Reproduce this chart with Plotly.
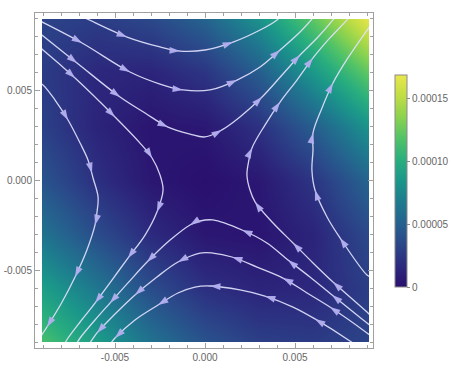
import math
import plotly.graph_objects as go

# ---------------- data (coordinates in units of 1e-3, density in units of 1e-6) -------------
grid_x = [-9, -6, -3, 0, 3, 6, 9]
grid_y = [-9, -6, -3, 0, 3, 6, 9]
density = [
    [115.0, 90.0, 62.0, 42.0, 30.0, 27.0, 32.0],   # y = -9
    [90.0, 65.0, 38.0, 20.0, 13.0, 15.0, 28.0],    # y = -6
    [62.0, 38.0, 17.0, 5.0, 3.5, 13.0, 35.0],      # y = -3
    [42.0, 20.0, 5.0, 0.0, 5.5, 23.0, 52.0],       # y = 0
    [30.0, 13.0, 3.5, 5.5, 21.0, 48.0, 82.0],      # y = 3
    [27.0, 15.0, 13.0, 23.0, 48.0, 85.0, 122.0],   # y = 6
    [32.0, 28.0, 35.0, 52.0, 82.0, 122.0, 166.0],  # y = 9
]

# streamlines, points in flow order
t1_x = [-6.94, -6.67, -4.33, -2.5, -1.39, 0.0, 1.56, 3.06, 4.0, 4.22]
t1_y = [9.14, 9.03, 7.97, 7.42, 7.19, 7.25, 7.69, 8.36, 8.92, 9.14]
t2_x = [-9.28, -9.06, -6.83, -4.17, -2.5, -1.22, 0.28, 1.78, 3.06, 4.17, 5.28, 5.94, 6.11]
t2_y = [8.92, 8.81, 7.64, 6.03, 5.36, 5.03, 5.03, 5.58, 6.31, 7.25, 8.25, 8.97, 9.19]
t3_x = [-9.28, -9.06, -7.11, -4.72, -3.33, -2.06, -0.83, 0.0, 0.94, 1.94, 3.17, 4.28, 5.28, 6.28, 7.11, 7.28]
t3_y = [8.25, 8.08, 6.53, 4.64, 3.75, 2.97, 2.58, 2.42, 2.81, 3.53, 4.64, 5.86, 6.97, 7.97, 8.92, 9.14]
l1_x = [-9.22, -9.0, -8.33, -7.61, -6.94, -6.5, -6.22, -5.94, -6.0, -6.11, -6.56, -7.22, -7.94, -8.78, -9.0, -9.17]
l1_y = [5.42, 5.31, 4.47, 3.36, 2.08, 1.14, 0.14, -0.92, -1.75, -2.47, -3.86, -5.36, -6.75, -8.14, -8.47, -8.75]
l2_x = [-9.22, -9.0, -7.22, -5.0, -3.61, -2.94, -2.5, -2.33, -2.67, -3.33, -4.28, -5.17, -6.11, -6.94, -7.61, -7.78]
l2_y = [7.42, 7.25, 5.69, 3.53, 2.08, 1.25, 0.31, -0.53, -1.75, -3.03, -4.31, -5.53, -6.81, -7.86, -8.75, -9.03]
ra_x = [9.22, 9.0, 7.11, 6.0, 4.89, 3.78, 2.78, 2.5, 2.33, 2.44, 2.61, 3.33, 4.17, 5.11, 6.0, 6.94, 7.89, 8.06]
ra_y = [-7.53, -7.31, -5.64, -4.58, -3.47, -2.36, -1.19, -0.53, 0.31, 1.14, 1.81, 3.08, 4.36, 5.58, 6.81, 7.92, 8.92, 9.14]
rb_x = [9.22, 9.0, 7.5, 6.78, 6.11, 5.94, 6.0, 6.0, 6.5, 7.11, 7.94, 8.89, 9.22]
rb_y = [-5.36, -5.25, -3.19, -2.03, -0.53, 0.58, 1.69, 2.64, 4.03, 5.42, 6.81, 8.19, 8.64]
bc_x = [9.22, 9.0, 7.06, 5.83, 4.61, 3.44, 2.06, 0.44, -0.28, -0.83, -1.94, -3.22, -4.28, -5.28, -6.11, -6.94, -7.11]
bc_y = [-8.08, -7.92, -6.36, -5.36, -4.42, -3.47, -2.75, -2.19, -2.25, -2.47, -3.31, -4.53, -5.69, -6.81, -7.75, -8.75, -9.03]
bd_x = [9.22, 9.0, 6.94, 5.67, 4.33, 2.89, 1.5, 0.44, -0.28, -1.5, -2.67, -3.89, -5.0, -6.0, -6.28, -6.44]
bd_y = [-8.64, -8.47, -7.03, -6.25, -5.42, -4.81, -4.25, -4.03, -4.03, -4.53, -5.36, -6.36, -7.42, -8.47, -8.86, -9.08]
be_x = [8.44, 8.22, 6.11, 4.89, 3.33, 1.94, 0.28, -0.56, -1.5, -2.61, -3.89, -5.0, -5.22]
be_y = [-9.19, -9.03, -7.69, -7.03, -6.42, -6.08, -5.86, -5.92, -6.25, -6.92, -7.75, -8.75, -9.03]

# arrowhead positions on each streamline
t1_ax = [-4.33, -1.39, 1.56];                      t1_ay = [7.97, 7.19, 7.69]
t2_ax = [-6.83, -4.17, -1.22, 1.78, 4.17];         t2_ay = [7.64, 6.03, 5.03, 5.58, 7.25]
t3_ax = [-7.11, -4.72, -2.06, 0.94, 3.17, 5.28];   t3_ay = [6.53, 4.64, 2.97, 2.81, 4.64, 6.97]
l1_ax = [-7.61, -6.28, -6.11, -7.22, -8.78];       l1_ay = [3.36, 0.42, -2.47, -5.36, -8.14]
l2_ax = [-7.22, -5.0, -2.94, -2.67, -4.28, -6.11]; l2_ay = [5.69, 3.53, 1.25, -1.75, -4.31, -6.81]
ra_ax = [7.11, 4.89, 2.78, 2.61, 4.17, 6.0];       ra_ay = [-5.64, -3.47, -1.19, 1.81, 4.36, 6.81]
rb_ax = [7.5, 6.11, 6.0, 7.11];                    rb_ay = [-3.19, -0.53, 2.64, 5.42]
bc_ax = [7.06, 4.61, 2.06, -0.83, -3.22, -5.28];   bc_ay = [-6.36, -4.42, -2.75, -2.47, -4.53, -6.81]
bd_ax = [6.94, 4.33, 1.5, -1.5, -3.89, -6.0];      bd_ay = [-7.03, -5.42, -4.25, -4.53, -6.36, -8.47]
be_ax = [6.11, 3.33, 0.28, -2.61, -5.0];           be_ay = [-7.69, -6.42, -5.86, -6.92, -8.75]

axis_tickvals = [-0.005, 0.0, 0.005]
axis_ticktext = ["-0.005", "0.000", "0.005"]
cbar_tickvals = [0.0, 0.00005, 0.00010, 0.00015]
cbar_ticktext = ["0", "0.00005", "0.00010", "0.00015"]
z_max = 0.000169

streams = [
    (t1_x, t1_y, t1_ax, t1_ay), (t2_x, t2_y, t2_ax, t2_ay), (t3_x, t3_y, t3_ax, t3_ay),
    (l1_x, l1_y, l1_ax, l1_ay), (l2_x, l2_y, l2_ax, l2_ay),
    (ra_x, ra_y, ra_ax, ra_ay), (rb_x, rb_y, rb_ax, rb_ay),
    (bc_x, bc_y, bc_ax, bc_ay), (bd_x, bd_y, bd_ax, bd_ay), (be_x, be_y, be_ax, be_ay),
]

# ---------------- figure ----------------
W, H = 463, 369
K = 1e-3


def px_dom(a, b, total):
    return [a / total, b / total]


def py_dom(top, bottom):
    return [1 - bottom / H, 1 - top / H]


colorscale = [
    [0.0, "#2a0f6e"], [0.1, "#2c2a7e"], [0.2, "#2b4689"], [0.3, "#25618e"],
    [0.4, "#1e7b8e"], [0.5, "#1b968a"], [0.6, "#29ae7e"], [0.7, "#50c268"],
    [0.8, "#8ad24f"], [0.9, "#c0dd45"], [1.0, "#e9e74b"],
]

fig = go.Figure()
fig.add_trace(go.Heatmap(
    x=[v * K for v in grid_x], y=[v * K for v in grid_y],
    z=[[v * 1e-6 for v in row] for row in density],
    zsmooth="best", zmin=0, zmax=z_max, colorscale=colorscale,
    hoverinfo="skip",
    colorbar=dict(
        x=395 / W, xanchor="left", y=1 - 181 / H, yanchor="middle",
        len=212, lenmode="pixels", thickness=12, thicknessmode="pixels",
        xpad=0, ypad=0, outlinecolor="#8a8a8a", outlinewidth=1,
        tickvals=cbar_tickvals, ticktext=cbar_ticktext,
        ticks="outside", ticklen=3, tickcolor="#8a8a8a",
        tickfont=dict(family="Liberation Sans", size=10, color="#666666"),
    ),
))

for xs, ys, axs, ays in streams:
    fig.add_trace(go.Scatter(
        x=[v * K for v in xs], y=[v * K for v in ys], mode="lines",
        line=dict(color="rgba(225,225,252,0.92)", width=1.3, shape="spline", smoothing=1.0),
        hoverinfo="skip", showlegend=False,
    ))
    angles = []
    for ax_, ay_ in zip(axs, ays):
        best, bi = None, 0
        for i in range(len(xs)):
            d = (xs[i] - ax_) ** 2 + (ys[i] - ay_) ** 2
            if best is None or d < best:
                best, bi = d, i
        i0 = max(bi - 1, 0)
        i1 = min(bi + 1, len(xs) - 1)
        dx = xs[i1] - xs[i0]
        dy = ys[i1] - ys[i0]
        angles.append(math.degrees(math.atan2(dx, dy)))
    fig.add_trace(go.Scatter(
        x=[v * K for v in axs], y=[v * K for v in ays], mode="markers",
        marker=dict(symbol="arrow", size=11, angle=angles,
                    color="rgba(178,174,238,0.95)", line=dict(width=0)),
        hoverinfo="skip", showlegend=False,
    ))

# dummy trace for frame axes
fig.add_trace(go.Scatter(x=[None], y=[None], xaxis="x2", yaxis="y2",
                         showlegend=False, hoverinfo="skip"))

tick_font = dict(family="Liberation Sans", size=10, color="#666666")
fig.update_layout(
    width=W, height=H, margin=dict(l=0, r=0, t=0, b=0),
    paper_bgcolor="white", plot_bgcolor="rgba(0,0,0,0)",
    showlegend=False,
    xaxis=dict(domain=px_dom(42, 369, W), range=[(42 - 205) / 18 * K, (369 - 205) / 18 * K],
               visible=False, fixedrange=True),
    yaxis=dict(domain=py_dom(19, 342), range=[(180.5 - 342) / 18 * K, (180.5 - 19) / 18 * K],
               visible=False, fixedrange=True),
    xaxis2=dict(domain=px_dom(35, 373, W), range=[(35 - 205) / 18 * K, (373 - 205) / 18 * K],
                anchor="y2", showline=True, linecolor="#a0a0a0", linewidth=1, mirror="allticks",
                ticks="inside", ticklen=5, tickcolor="#a0a0a0", showgrid=False, zeroline=False,
                tickvals=axis_tickvals, ticktext=axis_ticktext, tickfont=tick_font,
                minor=dict(ticks="inside", ticklen=3, dtick=0.001, tick0=0, tickcolor="#a0a0a0",
                           showgrid=False)),
    yaxis2=dict(domain=py_dom(13, 348), range=[(180.5 - 348) / 18 * K, (180.5 - 13) / 18 * K],
                anchor="x2", showline=True, linecolor="#a0a0a0", linewidth=1, mirror="allticks",
                ticks="inside", ticklen=5, tickcolor="#a0a0a0", showgrid=False, zeroline=False,
                tickvals=axis_tickvals, ticktext=axis_ticktext, tickfont=tick_font,
                minor=dict(ticks="inside", ticklen=3, dtick=0.001, tick0=0, tickcolor="#a0a0a0",
                           showgrid=False)),
)

fig.write_html("out.html")
